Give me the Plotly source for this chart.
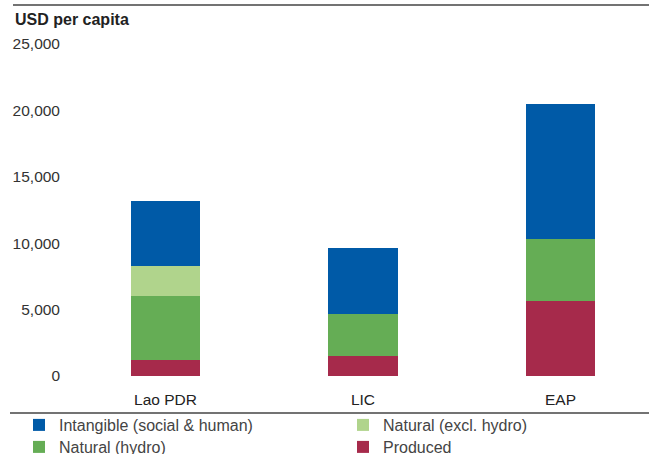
import plotly.graph_objects as go

categories = ["Lao PDR", "LIC", "EAP"]
produced = [1200, 1500, 5650]
natural_hydro = [4800, 3170, 4670]
natural_excl_hydro = [2280, 0, 0]
intangible = [4900, 4970, 10160]
y_ticks = [0, 5000, 10000, 15000, 20000, 25000]

FONT = "Liberation Sans, Arial, sans-serif"
W, H = 649, 454
L, R, T, B = 61, 0, 44, 78
pw = W - L - R
ph = H - T - B

def px(x):
    return (x - L) / pw

def py(y):
    return (H - B - y) / ph

# name, values, colour, legend id, legend position (px left of text - 40, row centre px)
series = [
    ("Produced", produced, "#A62A4B", "legend4", (343, 447)),
    ("Natural (hydro)", natural_hydro, "#65AD55", "legend3", (19, 447)),
    ("Natural (excl. hydro)", natural_excl_hydro, "#B0D48C", "legend2", (343, 425)),
    ("Intangible (social & human)", intangible, "#005AA7", "legend", (19, 425)),
]

fig = go.Figure()
legend_layouts = {}
for name, vals, col, lg, (lx, ly) in series:
    fig.add_trace(go.Bar(x=categories, y=vals, name=name, legend=lg,
                         marker=dict(color=col, line=dict(width=0))))
    legend_layouts[lg] = dict(
        orientation="h", xref="container", yref="container",
        x=lx / W, y=1 - ly / H, xanchor="left", yanchor="middle",
        font=dict(size=16, color="#444444"), bgcolor="rgba(0,0,0,0)",
        itemwidth=30, itemclick=False, itemdoubleclick=False,
    )

fig.update_layout(
    width=W, height=H,
    margin=dict(l=L, r=R, t=T, b=B, pad=0),
    barmode="stack", bargap=0.65,
    plot_bgcolor="white", paper_bgcolor="white",
    font=dict(family=FONT, size=16, color="#333333"),
    xaxis=dict(range=[-0.529, 2.448], showgrid=False, zeroline=False, showline=False,
               ticks="", ticklabelstandoff=12, tickfont=dict(size=15.5, color="#222222")),
    yaxis=dict(range=[0, 25000], tickvals=y_ticks, tickformat=",", showgrid=False,
               zeroline=False, showline=False, ticks="", tickfont=dict(size=15.5, color="#333333")),
    showlegend=True,
    **legend_layouts,
)
fig.add_annotation(text="<b>USD per capita</b>", xref="paper", yref="paper", x=px(13), y=py(20),
                   xanchor="left", yanchor="middle", showarrow=False, font=dict(size=16, color="#222222"))
fig.add_shape(type="line", xref="paper", yref="paper", x0=px(13), x1=1, y0=py(5), y1=py(5),
              line=dict(color="#444444", width=1.5))
fig.add_shape(type="line", xref="paper", yref="paper", x0=px(10), x1=1, y0=py(413), y1=py(413),
              line=dict(color="#444444", width=1.5))
fig.write_html("out.html", config={"displayModeBar": False},
               post_script="document.body.style.margin='0';")
